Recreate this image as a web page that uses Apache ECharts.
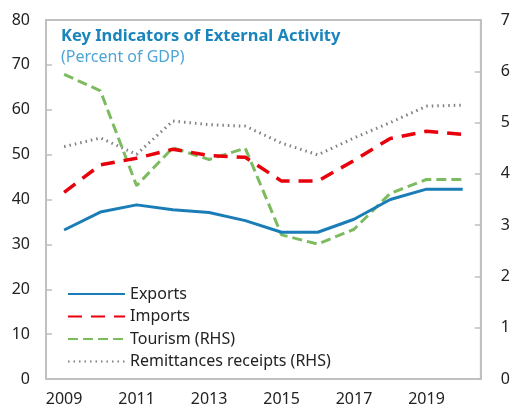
<!DOCTYPE html>
<html>
<head>
<meta charset="utf-8">
<script src="https://cdn.jsdelivr.net/npm/echarts@6/dist/echarts.min.js"></script>
<style>
  html, body { margin: 0; padding: 0; background: #fff; }
  #chart { width: 513px; height: 411px; }
</style>
</head>
<body>
<div id="chart"></div>
<script>
const years = ['2009', '2010', '2011', '2012', '2013', '2014', '2015', '2016', '2017', '2018', '2019', '2020'];
const exportsPct = [33.2, 37.2, 38.8, 37.7, 37.1, 35.3, 32.7, 32.7, 35.6, 40.0, 42.3, 42.3];
const importsPct = [41.6, 47.7, 49.2, 51.2, 49.8, 49.4, 44.1, 44.1, 48.7, 53.6, 55.2, 54.5];
const tourismRhs = [5.94, 5.62, 3.77, 4.51, 4.28, 4.5, 2.81, 2.63, 2.92, 3.62, 3.89, 3.89];
const remitRhs = [4.53, 4.7, 4.38, 5.03, 4.96, 4.93, 4.6, 4.37, 4.7, 5.0, 5.32, 5.34];

const chart = echarts.init(document.getElementById('chart'));

const font = '"Noto Sans", "Open Sans", sans-serif';

const option = {
  animation: false,
  textStyle: { fontFamily: font },
  title: {
    text: 'Key Indicators of External Activity',
    subtext: '(Percent of GDP)',
    left: 56,
    top: 23,
    itemGap: 4,
    textStyle: { fontSize: 16.5, fontWeight: 'bold', color: '#1a85bd', fontFamily: font },
    subtextStyle: { fontSize: 16, color: '#4ea6d6', fontFamily: font }
  },
  legend: {
    orient: 'vertical',
    left: 62,
    top: 281,
    itemWidth: 57,
    itemHeight: 14,
    itemGap: 6.5,
    itemStyle: { opacity: 0 },
    textStyle: { fontSize: 16, color: '#222', fontFamily: font },
    data: ['Exports', 'Imports', 'Tourism (RHS)', 'Remittances receipts (RHS)']
  },
  grid: {
    left: 46,
    right: 31,
    top: 20,
    bottom: 32,
    show: true,
    borderColor: '#c0c0c0',
    borderWidth: 2
  },
  xAxis: {
    type: 'category',
    data: years,
    boundaryGap: true,
    axisLine: { lineStyle: { color: '#c0c0c0', width: 2 } },
    axisTick: { inside: true, length: 6, lineStyle: { color: '#c0c0c0', width: 1.5 } },
    axisLabel: { interval: 1, fontSize: 16, color: '#222', margin: 12 }
  },
  yAxis: [
    {
      type: 'value',
      min: 0,
      max: 80,
      interval: 10,
      splitLine: { show: false },
      axisLine: { show: true, lineStyle: { color: '#c0c0c0', width: 2 } },
      axisTick: { show: true, inside: true, length: 6, lineStyle: { color: '#c0c0c0', width: 1.5 } },
      axisLabel: { fontSize: 16, color: '#222', margin: 16 }
    },
    {
      type: 'value',
      min: 0,
      max: 7,
      interval: 1,
      position: 'right',
      splitLine: { show: false },
      axisLine: { show: true, lineStyle: { color: '#c0c0c0', width: 2 } },
      axisTick: { show: true, inside: true, length: 6, lineStyle: { color: '#c0c0c0', width: 1.5 } },
      axisLabel: { fontSize: 16, color: '#222', margin: 20 }
    }
  ],
  series: [
    {
      name: 'Remittances receipts (RHS)',
      type: 'line',
      yAxisIndex: 1,
      data: remitRhs,
      symbol: 'none',
      lineStyle: { color: '#808080', width: 3, type: [1.5, 4] },
      itemStyle: { color: '#808080' }
    },
    {
      name: 'Tourism (RHS)',
      type: 'line',
      yAxisIndex: 1,
      data: tourismRhs,
      symbol: 'none',
      lineStyle: { color: '#7cbb5e', width: 3, type: [10, 5] },
      itemStyle: { color: '#7cbb5e' }
    },
    {
      name: 'Imports',
      type: 'line',
      data: importsPct,
      symbol: 'none',
      lineStyle: { color: '#e8000b', width: 3.5, type: [14, 9] },
      itemStyle: { color: '#e8000b' }
    },
    {
      name: 'Exports',
      type: 'line',
      data: exportsPct,
      symbol: 'none',
      lineStyle: { color: '#1a7db8', width: 3 },
      itemStyle: { color: '#1a7db8' }
    }
  ]
};

chart.setOption(option);
</script>
</body>
</html>
